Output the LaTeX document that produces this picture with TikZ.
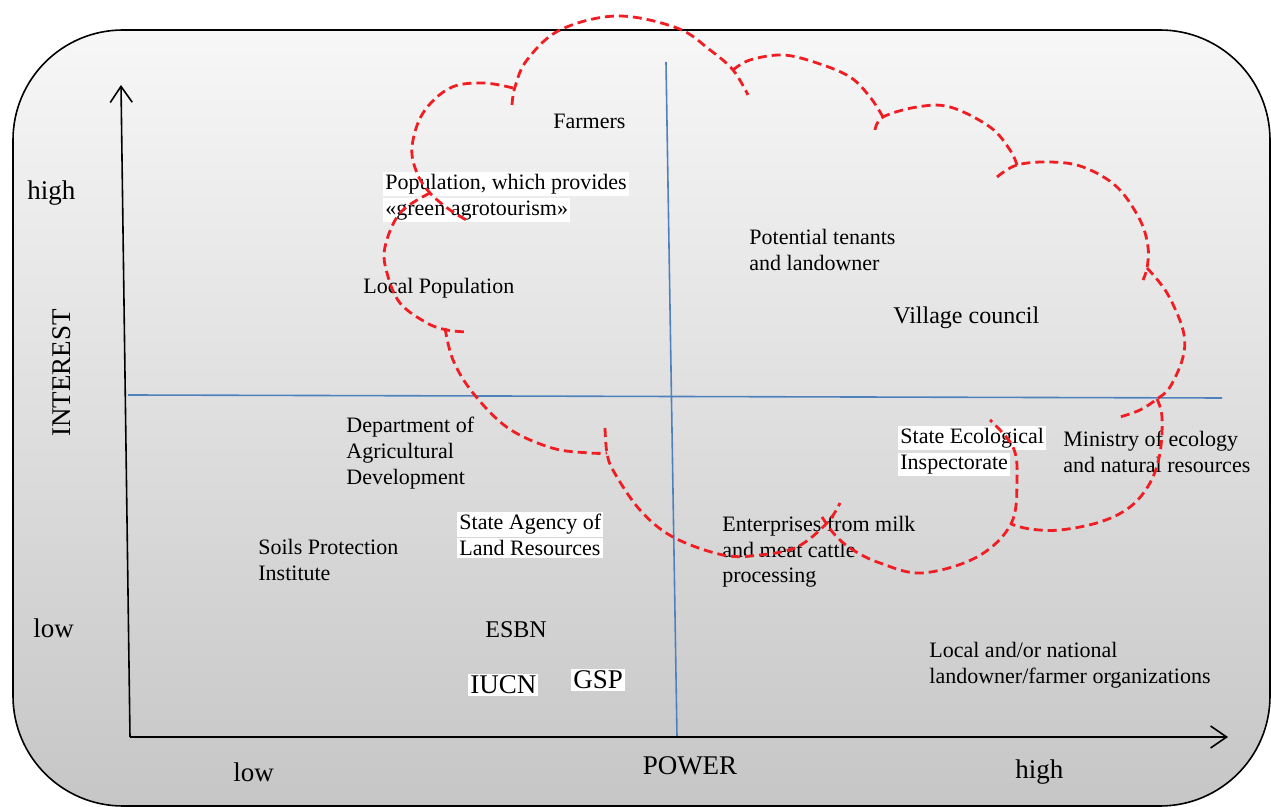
\documentclass[tikz,border=0pt]{standalone}
\usepackage{fontspec}
\setmainfont{Liberation Serif}
\usetikzlibrary{arrows.meta,positioning}
\definecolor{nuvola}{RGB}{240,30,35}
\definecolor{quadranti}{RGB}{79,129,189}
\definecolor{sfondoalto}{RGB}{247,247,247}
\definecolor{sfondobasso}{RGB}{198,198,198}
\newcommand{\evid}[1]{\kern-1pt{\setlength{\fboxsep}{1pt}\colorbox{white}{#1}}}
\tikzset{
  etichetta/.style={anchor=west, inner sep=0pt, align=left, font=\fontsize{11}{12.8}\selectfont},
  grande/.style={etichetta, font=\fontsize{12}{14}\selectfont},
  asse/.style={inner sep=0pt, font=\fontsize{13.5}{15}\selectfont},
  lobo/.style={nuvola, line width=1.4pt, dash pattern=on 4.5pt off 2.5pt},
}

\begin{document}
\begin{tikzpicture}[x=0.5pt, y=-0.5pt]
    \useasboundingbox (0,0) rectangle (1271,807);
    % Disegna lo sfondo arrotondato
    \shade[top color=sfondoalto, bottom color=sfondobasso, draw=black, line width=0.8pt,
           rounded corners=55pt] (13,30) rectangle (1270,806);
    % Disegna i quadranti
    \coordinate (q1) at (666,62);
    \coordinate (q2) at (677,737);
    \coordinate (q3) at (128,395);
    \coordinate (q4) at (1222,398);
    \draw[quadranti, line width=0.8pt] (q1) -- (q2);
    \draw[quadranti, line width=0.8pt] (q3) -- (q4);
    % Disegna gli assi x e y
    \coordinate (origine) at (130,737);
    \coordinate (cimaY) at (121,85);
    \coordinate (fineX) at (1228,737);
    \draw[line width=0.8pt, -{Straight Barb[length=8pt,width=11pt]}] (origine) -- (cimaY);
    \draw[line width=0.8pt, -{Straight Barb[length=8pt,width=11pt]}] (origine) -- (fineX);
    % Etichette degli assi
    \node[asse, anchor=west] (altoY) at (27,193) {high};
    \node[asse, anchor=west] (bassoY) at (33,628) {low};
    \node[asse, rotate=90] (interest) at (62,373) {INTEREST};
    \node[asse, anchor=west] (bassoX) at (233,772) {low};
    \node[asse] (power) at (690,766) {POWER};
    \node[asse, anchor=west] (altoX) at (1015,772) {high};
    % Gli attori
    \node[etichetta] (farmers) at (553,121) {Farmers};
    \node[etichetta] (greenpop) at (385,197) {\evid{Population, which provides}\\\evid{«green agrotourism»}};
    \node[etichetta] (localpop) at (363,288) {Local Population};
    \node[etichetta] (tenants) at (749,250) {Potential tenants\\and landowner};
    \node[grande] (village) at (893,318) {Village council};
    \node[etichetta] (deptagri) at (346,453) {Department of\\Agricultural\\Development};
    \node[etichetta] (agency) at (459,535) {\evid{State Agency of}\\\evid{Land Resources}};
    \node[etichetta] (soils) at (258,560) {Soils Protection\\Institute};
    \node[grande] (esbn) at (485,630) {ESBN};
    \node[asse, anchor=west] (iucn) at (470,685) {\evid{IUCN}};
    \node[asse, anchor=west] (gsp) at (573,680) {\evid{GSP}};
    \node[etichetta] (ecoinsp) at (900,451) {\evid{State Ecological}\\\evid{Inspectorate}};
    \node[etichetta] (ministry) at (1063,452) {Ministry of ecology\\and natural resources};
    \node[etichetta] (enterprises) at (722,552) {Enterprises from milk\\and meat cattle\\processing};
    \node[etichetta] (landorg) at (929,665) {Local and/or national\\landowner/farmer organizations};
    % Disegna la nuvola tratteggiata
    \draw[lobo] plot[smooth, tension=0.6] coordinates {(513,88) (483,83) (450,88) (423,113) (412,147) (417,173) (430,193) (450,210) (470,222)};
    \draw[lobo] plot[smooth, tension=0.6] coordinates {(430,193) (400,213) (385,247) (387,273) (400,303) (427,323) (447,330) (467,332)};
    \draw[lobo] plot[smooth, tension=0.6] coordinates {(445,328) (453,360) (473,393) (508,428) (552,448) (590,453) (607,453)};
    \draw[lobo] plot[smooth, tension=0.6] coordinates {(605,428) (607,453) (614,472) (640,510) (673,537) (723,555) (760,555) (797,547) (827,523) (840,503)};
    \draw[lobo] plot[smooth, tension=0.6] coordinates {(822,517) (835,535) (853,550) (880,563) (922,573) (977,557) (1011,524) (1017,480) (1013,447) (990,420)};
    \draw[lobo] plot[smooth, tension=0.6] coordinates {(1157,399) (1162,417) (1160,453) (1150,483) (1130,507) (1100,522) (1060,530) (1030,529) (1011,524)};
    \draw[lobo] plot[smooth, tension=0.6] coordinates {(1147,268) (1167,293) (1183,330) (1183,357) (1170,387) (1157,399) (1140,410) (1120,417)};
    \draw[lobo] plot[smooth, tension=0.6] coordinates {(997,177) (1017,165) (1050,162) (1083,167) (1117,187) (1140,220) (1148,247) (1147,268) (1143,280)};
    \draw[lobo] plot[smooth, tension=0.6] coordinates {(875,130) (883,117) (917,107) (950,107) (990,127) (1010,150) (1017,165)};
    \draw[lobo] plot[smooth, tension=0.6] coordinates {(733,70) (750,60) (783,55) (817,63) (850,77) (870,97) (883,117)};
    \draw[lobo] plot[smooth, tension=0.6] coordinates {(512,105) (515,87) (527,60) (560,30) (617,16) (677,28) (710,50) (733,70) (748,95)};
\end{tikzpicture}
\end{document}
